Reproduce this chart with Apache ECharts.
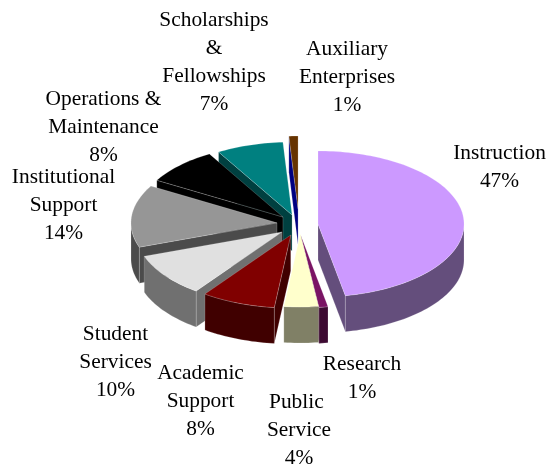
<!DOCTYPE html>
<html><head><meta charset="utf-8">
<style>html,body{margin:0;padding:0;background:#fff}#c{width:550px;height:464px}</style>
<script src="https://cdn.jsdelivr.net/npm/echarts@6/dist/echarts.min.js"></script>
</head><body><div id="c"></div>
<script>
const categories = ['Instruction','Research','Public \nService','Academic\nSupport','Student\nServices','Institutional\nSupport','Operations &\nMaintenance','Scholarships\n&\nFellowships','Auxiliary\nEnterprises'];
const values = [47,1,3.8,8.2,9.6,13.8,8.2,7.4,1];
const topColors = ['#CC99FF','#7A1464','#FFFFCC','#800000','#E0E0E0','#969696','#000000','#008080','#663300'];
const sideColors = ['#644E7C','#3D0A32','#808066','#400000','#707070','#4B4B4B','#000000','#004040','#000080'];
const labelCenters = [[499.5,153],[362,364],[299,402],[200.5,373],[115.5,334],[63.5,177],[103.5,99],[214,20],[347,49]];
const apexAdjust = [[0.6,2.6],[0,0.6],[2.7,-0.5],[0.5,1.3],[0.5,2.3],[-0.6,1.5],[-0.4,3],[0.4,4],[1.2,-1.5]];
const CX=297.5, CY=222.5, RX=146, RY=73, DEPTH=36, EX=20, EY=12, LH=28, FS=21.4;
const total = values.reduce((a,b)=>a+b,0);
const starts=[]; values.reduce((acc,v,i)=>{starts[i]=acc;return acc+v;},0);
const rad=d=>d*Math.PI/180;
const order = values.map((_,i)=>i).sort((a,b)=>{
  const m=i=>(starts[i]+values[i]/2)/total*2*Math.PI;
  return Math.cos(m(b))-Math.cos(m(a));
});
function renderItem(params, api){
  const i=api.value(0), val=api.value(1);
  const t0=starts[i]/total*360, t1=t0+val/total*360, mid=(t0+t1)/2;
  const ax=CX+EX*Math.sin(rad(mid))+apexAdjust[i][0], ay=CY-EY*Math.cos(rad(mid))+apexAdjust[i][1];
  const pt=(t,d)=>[ax+RX*Math.sin(rad(t)), ay-RY*Math.cos(rad(t))+(d||0)];
  const arc=(a,b,d)=>{const n=Math.max(2,Math.ceil(Math.abs(b-a)/1.5));const o=[];for(let k=0;k<=n;k++)o.push(pt(a+(b-a)*k/n,d));return o;};
  const z=params.dataIndex*3+1, ch=[];
  const line={stroke:'rgba(255,255,255,0.3)',lineWidth:0.6};
  const add=(points,fill,zz)=>ch.push({type:'polygon',z2:zz,shape:{points},style:Object.assign({fill},line)});
  if(Math.sin(rad(t0))<-1e-6) add([[ax,ay],pt(t0),pt(t0,DEPTH),[ax,ay+DEPTH]],sideColors[i],z);
  if(Math.sin(rad(t1))>1e-6) add([[ax,ay],pt(t1),pt(t1,DEPTH),[ax,ay+DEPTH]],sideColors[i],z);
  const a=Math.max(t0,90), b=Math.min(t1,270);
  if(b>a) add(arc(a,b,0).concat(arc(b,a,DEPTH)),sideColors[i],z);
  add([[ax,ay]].concat(arc(t0,t1,0)),topColors[i],z+1);
  const c=labelCenters[i];
  ch.push({type:'text',z2:500,style:{text:categories[i]+'\n'+Math.round(val)+'%',x:c[0],y:c[1]-LH/2,fill:'#000',
    fontFamily:'"Liberation Serif","Times New Roman",serif',fontSize:FS,lineHeight:LH,
    textAlign:'center',align:'center',verticalAlign:'top',textVerticalAlign:'top'}});
  return {type:'group',children:ch};
}
const chart=echarts.init(document.getElementById('c'),null,{renderer:'canvas',width:550,height:464});
chart.setOption({animation:false,backgroundColor:'#fff',series:[{type:'custom',coordinateSystem:'none',silent:true,
  renderItem,data:order.map(i=>[i,values[i]])}]});
</script></body></html>
